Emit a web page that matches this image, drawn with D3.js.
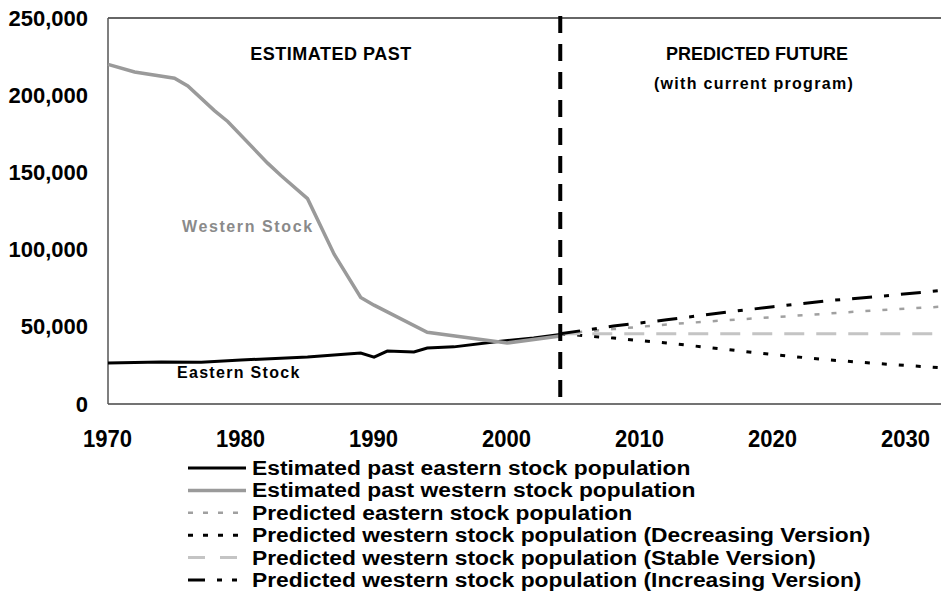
<!DOCTYPE html>
<html>
<head>
<meta charset="utf-8">
<script src="https://cdn.jsdelivr.net/npm/d3@7"></script>
<style>
  body { margin: 0; background: #fff; }
  svg { display: block; font-family: "Liberation Sans", Arial, sans-serif; }
</style>
</head>
<body>
<svg id="chart"></svg>
<script>
var width = 941,
    height = 596;

// estimated past
var westYears = [1970, 1972, 1975, 1976, 1978, 1979, 1982, 1983, 1985, 1987, 1989, 1990, 1994, 2000, 2004];
var westVals = [220000, 215000, 211000, 206000, 190000, 183000, 156000, 148000, 133000, 97000, 69000, 64000, 46500, 39500, 44000];

var eastYears = [1970, 1974, 1977, 1980, 1985, 1988, 1989, 1990, 1991, 1993, 1994, 1996, 1999, 2002, 2004];
var eastVals = [26500, 27200, 27000, 28500, 30400, 32400, 33000, 30400, 34300, 33700, 36300, 37000, 40200, 42800, 45000];

// predicted future
var predYears = [2004, 2008, 2012, 2016, 2020, 2024, 2028, 2033];
var eastPredVals = [45500, 48500, 51500, 54000, 56200, 58500, 60800, 63200];
var westDecVals = [45500, 42700, 39500, 35800, 32000, 28700, 26100, 23300];
var westIncVals = [45500, 50500, 54500, 59000, 63000, 66800, 69700, 73800];
var stableYears = [2004, 2033];
var westStableVals = [45500, 45500];

var splitYear = 2004;

var xTicks = [1970, 1980, 1990, 2000, 2010, 2020, 2030];
var yTicks = [0, 50000, 100000, 150000, 200000, 250000];

var legendLabels = [
    "Estimated past eastern stock population",
    "Estimated past western stock population",
    "Predicted eastern stock population",
    "Predicted western stock population (Decreasing Version)",
    "Predicted western stock population (Stable Version)",
    "Predicted western stock population (Increasing Version)"
];

var svg = d3.select("#chart")
    .attr("width", width)
    .attr("height", height);

var x = d3.scaleLinear().domain([1970, 2033]).range([108, 946]);
var y = d3.scaleLinear().domain([0, 250000]).range([404, 18]);

function zip(xs, vs) {
    return xs.map(function(d, i) { return [d, vs[i]]; });
}

var line = d3.line()
    .x(function(d) { return x(d[0]); })
    .y(function(d) { return y(d[1]); });

// series styles
var series = [
    { data: zip(eastYears, eastVals), color: "#000", w: 3, dash: null },
    { data: zip(westYears, westVals), color: "#9a9a9a", w: 3.5, dash: null },
    { data: zip(predYears, eastPredVals), color: "#a0a0a0", w: 2.5, dash: "5,12", legDash: "5,10" },
    { data: zip(predYears, westDecVals), color: "#000", w: 3, dash: "5,12", legDash: "5,10" },
    { data: zip(stableYears, westStableVals), color: "#c4c4c4", w: 3, dash: "20,12", legDash: "17,15" },
    { data: zip(predYears, westIncVals), color: "#000", w: 3, dash: "20,12,5,12", legDash: "17,12,5,10,5,10" }
];

// frame
svg.append("line")
    .attr("x1", x(1970)).attr("x2", width)
    .attr("y1", y(250000)).attr("y2", y(250000))
    .attr("stroke", "#333").attr("stroke-width", 1.5);
svg.append("line")
    .attr("x1", x(1970)).attr("x2", width)
    .attr("y1", y(0)).attr("y2", y(0))
    .attr("stroke", "#444").attr("stroke-width", 1.5);
svg.append("line")
    .attr("x1", x(1970)).attr("x2", x(1970))
    .attr("y1", y(250000)).attr("y2", y(0))
    .attr("stroke", "#555").attr("stroke-width", 1.5);

// axes
var yAxis = svg.append("g")
    .attr("transform", "translate(" + x(1970) + ",0)")
    .call(d3.axisLeft(y).tickValues(yTicks).tickSize(0).tickPadding(20).tickFormat(d3.format(",")));
yAxis.select(".domain").remove();
yAxis.selectAll("text")
    .attr("font-size", "22px")
    .attr("font-weight", "bold")
    .attr("font-family", "'Liberation Sans', Arial, sans-serif")
    .attr("fill", "#000");

var xAxis = svg.append("g")
    .attr("transform", "translate(-1," + y(0) + ")")
    .call(d3.axisBottom(x).tickValues(xTicks).tickSize(0).tickPadding(27).tickFormat(d3.format("d")));
xAxis.select(".domain").remove();
xAxis.selectAll("text")
    .attr("font-size", "23px")
    .attr("font-weight", "bold")
    .attr("font-family", "'Liberation Sans', Arial, sans-serif")
    .attr("fill", "#000")
    .attr("textLength", 49)
    .attr("lengthAdjust", "spacingAndGlyphs");

// lines
svg.selectAll("path.series")
    .data(series)
    .enter().append("path")
    .attr("class", "series")
    .attr("d", function(d) { return line(d.data); })
    .attr("fill", "none")
    .attr("stroke", function(d) { return d.color; })
    .attr("stroke-width", function(d) { return d.w; })
    .attr("stroke-dasharray", function(d) { return d.dash; });

// divider
svg.append("line")
    .attr("x1", x(splitYear)).attr("x2", x(splitYear))
    .attr("y1", y(250000) - 2).attr("y2", y(0))
    .attr("stroke", "#000")
    .attr("stroke-width", 4)
    .attr("stroke-dasharray", "17,11");

// annotations
svg.append("text")
    .attr("x", 331).attr("y", 60)
    .attr("text-anchor", "middle")
    .attr("font-size", "18px").attr("font-weight", "bold")
    .attr("letter-spacing", "0.5px")
    .text("ESTIMATED PAST");
svg.append("text")
    .attr("x", 757).attr("y", 60)
    .attr("text-anchor", "middle")
    .attr("font-size", "18px").attr("font-weight", "bold")
    .text("PREDICTED FUTURE");
svg.append("text")
    .attr("x", 754).attr("y", 89)
    .attr("text-anchor", "middle")
    .attr("font-size", "16px").attr("font-weight", "bold")
    .attr("letter-spacing", "1.3px")
    .text("(with current program)");
svg.append("text")
    .attr("x", 182).attr("y", 232)
    .attr("font-size", "16px").attr("font-weight", "bold")
    .attr("letter-spacing", "1.6px")
    .attr("fill", "#8a8a8a")
    .text("Western Stock");
svg.append("text")
    .attr("x", 177).attr("y", 378)
    .attr("font-size", "16px").attr("font-weight", "bold")
    .attr("letter-spacing", "1.3px")
    .attr("fill", "#000")
    .text("Eastern Stock");

// legend
var legend = svg.append("g").attr("class", "legend");
var rows = legend.selectAll("g")
    .data(series)
    .enter().append("g")
    .attr("transform", function(d, i) { return "translate(0," + (468 + i * 22.4) + ")"; });

rows.append("line")
    .attr("x1", 188).attr("x2", 246)
    .attr("y1", 0).attr("y2", 0)
    .attr("stroke", function(d) { return d.color; })
    .attr("stroke-width", function(d) { return d.w; })
    .attr("stroke-dasharray", function(d) { return d.legDash || null; });

rows.append("text")
    .attr("x", 252)
    .attr("y", 7)
    .attr("font-size", "20px")
    .attr("font-weight", "bold")
    .attr("fill", "#000")
    .text(function(d, i) { return legendLabels[i]; })
    .each(function() {
        // stretch a little to the reference width
        var len = this.getComputedTextLength();
        d3.select(this)
            .attr("textLength", len * 1.14)
            .attr("lengthAdjust", "spacingAndGlyphs");
    });
</script>
</body>
</html>
